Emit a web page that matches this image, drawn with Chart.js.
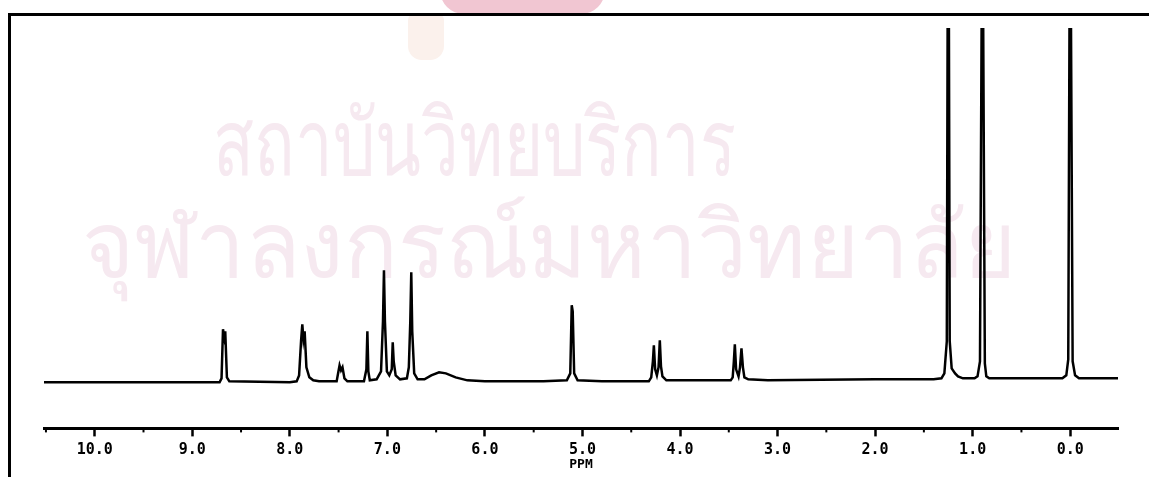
<!DOCTYPE html>
<html>
<head>
<meta charset="utf-8">
<script src="https://cdn.jsdelivr.net/npm/chart.js@4/dist/chart.umd.min.js"></script>
<style>
  html, body { margin: 0; padding: 0; background: #fff; }
  #wrap { position: relative; width: 1149px; height: 477px; overflow: hidden; }
  #frame { position: absolute; left: 8px; top: 13px; right: -5px; bottom: -5px;
           border-top: 3px solid #000; border-left: 3px solid #000; }
  .wm { position: absolute; color: #f6e9f0; font-family: "Noto Sans", "DejaVu Sans", sans-serif;
        white-space: nowrap; line-height: 1; transform-origin: left top; }
  #emblem { position: absolute; left: 440px; top: -10px; width: 165px; height: 24px;
            background: #f1c6d2; border-radius: 0 0 40px 40px; }
  #emblem2 { position: absolute; left: 408px; top: 14px; width: 36px; height: 46px;
             background: #fbf1ec; border-radius: 6px 6px 14px 14px; }
  canvas { position: absolute; left: 0; top: 0; }
</style>
</head>
<body>
<div id="wrap">
  <div id="emblem"></div>
  <div id="emblem2"></div>
  <div class="wm" style="left:213px; top:94px; font-size:92px; transform:scaleX(0.73);">สถาบันวิทยบริการ</div>
  <div class="wm" style="left:82px; top:196px; font-size:92px; transform:scaleX(0.97);">จุฬาลงกรณ์มหาวิทยาลัย</div>
  <div id="frame"></div>
  <canvas id="chart" width="1149" height="477"></canvas>
</div>
<script>
// chemical shift (ppm) and signal height
const shifts = [
  10.52, 9.50, 8.72, 8.70, 8.685, 8.672, 8.662, 8.645, 8.62, 8.00,
  7.93, 7.905, 7.885, 7.872, 7.860, 7.848, 7.830, 7.80, 7.76, 7.70,
  7.52, 7.505, 7.49, 7.475, 7.46, 7.44, 7.41,
  7.24, 7.215, 7.205, 7.195, 7.18, 7.11,
  7.065, 7.045, 7.035, 7.025, 7.005, 6.98, 6.955, 6.945, 6.935, 6.915, 6.87,
  6.80, 6.78, 6.765, 6.755, 6.745, 6.725, 6.69,
  6.62, 6.55, 6.47, 6.40, 6.30, 6.18, 6.00, 5.40,
  5.16, 5.125, 5.11, 5.10, 5.085, 5.05, 4.80,
  4.32, 4.295, 4.278, 4.268, 4.255, 4.237, 4.22, 4.207, 4.195, 4.18, 4.14, 4.05, 3.80,
  3.48, 3.46, 3.448, 3.438, 3.425, 3.40, 3.385, 3.37, 3.355, 3.34, 3.30, 3.10, 2.00,
  1.40, 1.32, 1.29, 1.265, 1.255, 1.245, 1.235, 1.215, 1.18, 1.15, 1.10,
  0.98, 0.95, 0.925, 0.905, 0.895, 0.875, 0.86, 0.83,
  0.08, 0.04, 0.02, 0.005, -0.005, -0.025, -0.05, -0.09, -0.49
];
const heights = [
  -1, -1, -1, 3, 52, 44, 50, 4, 0, -1,
  0, 6, 40, 57, 42, 50, 14, 4, 1, 0,
  0, 8, 16, 11, 14, 3, 0,
  0, 12, 50, 10, 1, 2,
  10, 60, 111, 60, 10, 6, 12, 39, 20, 6, 2,
  3, 14, 60, 109, 50, 8, 2,
  2, 6, 9, 8, 4, 1, 0, 0,
  1, 8, 76, 70, 8, 1, 0,
  0, 4, 20, 36, 12, 6, 14, 41, 15, 5, 1, 1, 1,
  1, 4, 20, 37, 12, 5, 14, 33, 14, 4, 2, 1, 2,
  2, 3, 8, 40, 420, 420, 40, 13, 8, 5, 3,
  3, 5, 20, 420, 420, 18, 5, 3,
  3, 6, 22, 420, 420, 20, 6, 3, 3
];

const majorTicks = [10, 9, 8, 7, 6, 5, 4, 3, 2, 1, 0];
const minorTicks = [10.5, 9.5, 8.5, 7.5, 6.5, 5.5, 4.5, 3.5, 2.5, 1.5, 0.5];

const points = shifts.map((s, i) => ({ x: s, y: heights[i] }));

// short minor ticks under the ppm axis
const minorTickPlugin = {
  id: 'minorTicks',
  afterDraw(chart) {
    const sc = chart.scales.x;
    const ctx = chart.ctx;
    ctx.save();
    ctx.strokeStyle = '#000';
    ctx.lineWidth = 2;
    minorTicks.forEach(v => {
      const px = sc.getPixelForValue(v);
      if (px < sc.left || px > sc.right) return;
      ctx.beginPath();
      ctx.moveTo(px, sc.top);
      ctx.lineTo(px, sc.top + 4);
      ctx.stroke();
    });
    ctx.restore();
  }
};

new Chart(document.getElementById('chart').getContext('2d'), {
  type: 'line',
  data: {
    datasets: [{
      data: points,
      borderColor: '#000',
      borderWidth: 2.5,
      pointRadius: 0,
      tension: 0,
      fill: false
    }]
  },
  options: {
    responsive: false,
    animation: false,
    plugins: { legend: { display: false }, tooltip: { enabled: false } },
    layout: { padding: { left: 44, right: 31, top: 28, bottom: 13 } },
    scales: {
      x: {
        type: 'linear',
        reverse: true,
        min: -0.49,
        max: 10.52,
        afterBuildTicks: (axis) => { axis.ticks = majorTicks.map(v => ({ value: v })); },
        ticks: {
          autoSkip: false,
          maxRotation: 0,
          padding: 5,
          color: '#000',
          font: { family: 'DejaVu Sans Mono', size: 15, weight: 'bold' },
          callback: (v) => Number(v).toFixed(1)
        },
        grid: { drawOnChartArea: false, drawTicks: true, tickLength: 8, tickWidth: 2.5, tickColor: '#000' },
        border: { display: true, color: '#000', width: 3 },
        title: {
          display: true,
          text: 'PPM',
          color: '#000',
          font: { family: 'DejaVu Sans Mono', size: 13, weight: 'bold' },
          padding: { top: -8, bottom: -8 }
        }
      },
      y: {
        display: false,
        min: -47,
        max: 353
      }
    }
  },
  plugins: [minorTickPlugin]
});
</script>
</body>
</html>
